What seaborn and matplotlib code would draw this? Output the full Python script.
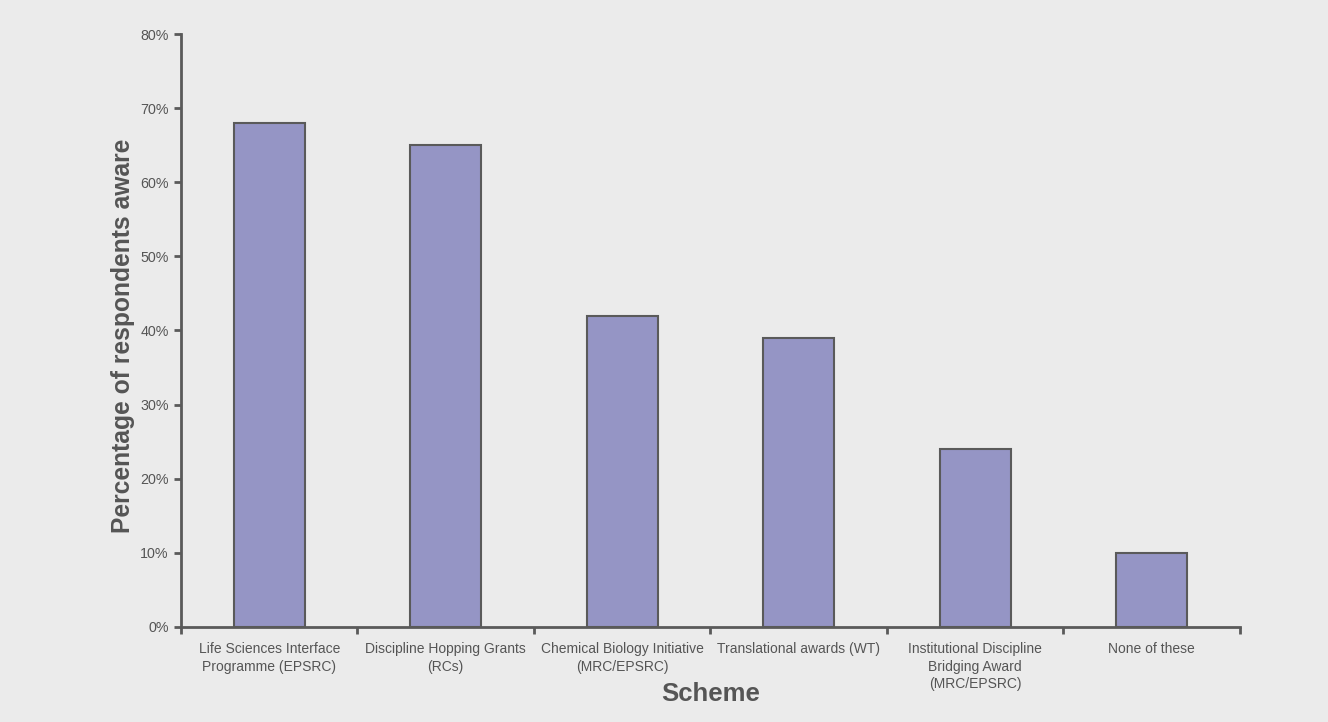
import matplotlib
matplotlib.use("Agg")
import matplotlib.pyplot as plt
import seaborn as sns
import numpy as np
import pandas as pd
from matplotlib.ticker import FixedLocator, PercentFormatter

schemes = [
    "Life Sciences Interface\nProgramme (EPSRC)",
    "Discipline Hopping Grants\n(RCs)",
    "Chemical Biology Initiative\n(MRC/EPSRC)",
    "Translational awards (WT)",
    "Institutional Discipline\nBridging Award\n(MRC/EPSRC)",
    "None of these",
]
aware_pct = [68, 65, 42, 39, 24, 10]

BG = "#ebebeb"
BAR = "#9595c5"
EDGE = "#5a5a5a"
TEXT = "#555555"

sns.set_style("white")
plt.rcParams["font.family"] = ["Liberation Sans", "DejaVu Sans"]

df = pd.DataFrame({"scheme": schemes, "pct": aware_pct})

fig = plt.figure(figsize=(13.28, 7.22), dpi=100, facecolor=BG)
ax = fig.add_axes([0.1363, 0.1316, 0.7974, 0.8213])
ax.set_facecolor(BG)

sns.barplot(data=df, x="scheme", y="pct", color=BAR, width=0.40,
            edgecolor=EDGE, linewidth=1.5, saturation=1, ax=ax)

ax.set_xlim(-0.5, len(schemes) - 0.5)
ax.set_ylim(0, 80)
ax.yaxis.set_major_locator(FixedLocator(np.arange(0, 81, 10)))
ax.yaxis.set_major_formatter(PercentFormatter(decimals=0))

# category labels centred, tick marks on the category boundaries
ax.set_xticks(range(len(schemes)))
ax.set_xticklabels(schemes, fontsize=10, color=TEXT, linespacing=1.3)
ax.tick_params(axis="x", which="major", bottom=True, length=0, pad=11)
ax.set_xticks(np.arange(-0.5, len(schemes), 1.0), minor=True)
ax.tick_params(axis="x", which="minor", bottom=True, length=5, width=2,
               color=EDGE, direction="out")
ax.tick_params(axis="y", which="major", left=True, length=5, width=2, color=EDGE,
               direction="out", labelsize=10.3, labelcolor=TEXT, pad=4)

for side in ["top", "right"]:
    ax.spines[side].set_visible(False)
for side in ["left", "bottom"]:
    ax.spines[side].set_color(EDGE)
    ax.spines[side].set_linewidth(2)

ax.set_xlabel("Scheme", fontsize=18.5, fontweight="bold", color=TEXT)
ax.xaxis.set_label_coords(0.5, -0.092)
ax.set_ylabel("Percentage of respondents aware", fontsize=17.7, fontweight="bold",
              color=TEXT)
ax.yaxis.set_label_coords(-0.043, 0.4916)

fig.savefig("out.png", dpi=100, facecolor=BG)
